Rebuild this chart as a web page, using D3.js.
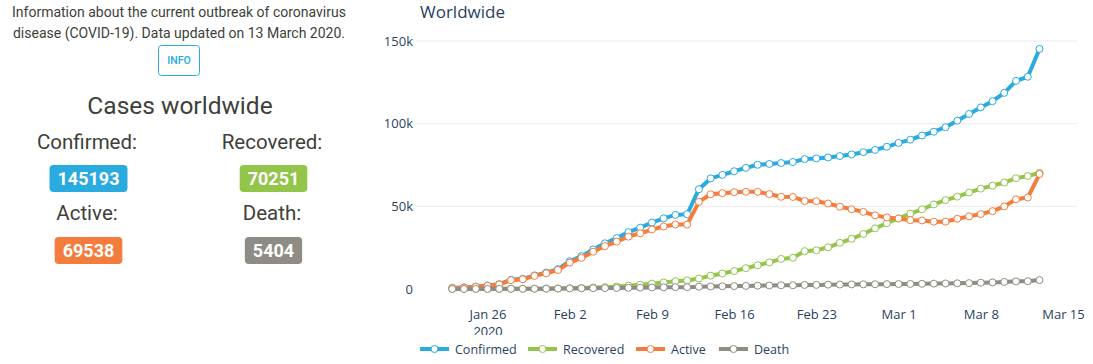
<!DOCTYPE html>
<html>
<head>
<meta charset="utf-8">
<script src="https://cdn.jsdelivr.net/npm/d3@7"></script>
<style>
  html, body { margin: 0; padding: 0; background: #fff; }
  svg { display: block; }
</style>
</head>
<body>
<svg id="root" width="1093" height="364"></svg>
<script>
// ---------- data ----------
const startDate = "2020-01-23";
const endDate = "2020-03-13";
const seriesNames = ["Confirmed", "Recovered", "Active", "Death"];
const confirmed = [654, 941, 1434, 2118, 2927, 5578, 6166, 8234, 9927, 12038, 16787, 19881, 23892, 27635, 30794, 34391, 37120, 40150, 42762, 44802, 45221, 60368, 66885, 69030, 71224, 73258, 75136, 75639, 76197, 76823, 78579, 78965, 79568, 80413, 81395, 82754, 84120, 86011, 88369, 90306, 92840, 95120, 97886, 101801, 105847, 109821, 113590, 118620, 125875, 128352, 145193];
const recovered = [30, 36, 39, 52, 61, 107, 126, 143, 222, 284, 472, 623, 852, 1124, 1487, 2011, 2616, 3244, 3946, 4683, 5150, 6295, 8058, 9395, 10865, 12583, 14352, 16121, 18177, 18890, 22886, 23394, 25227, 27905, 30384, 33277, 36711, 39782, 42716, 45602, 48228, 51170, 53796, 55865, 58358, 60694, 62494, 64404, 67003, 68324, 70251];
const active = [606, 879, 1353, 2010, 2784, 5340, 5907, 7920, 9492, 11495, 15953, 18832, 22548, 25947, 28673, 31661, 33698, 36000, 37803, 39006, 38953, 52702, 57304, 57969, 58589, 58807, 58777, 57396, 55773, 55682, 53235, 53102, 51712, 49800, 48241, 46663, 44537, 43288, 42657, 41619, 41452, 40696, 40742, 42476, 43931, 45325, 47108, 49954, 54257, 55308, 69538];
const death = [18, 26, 42, 56, 82, 131, 133, 171, 213, 259, 362, 426, 492, 564, 634, 719, 806, 906, 1013, 1113, 1118, 1371, 1523, 1666, 1770, 1868, 2007, 2122, 2247, 2251, 2458, 2469, 2629, 2708, 2770, 2814, 2872, 2941, 2996, 3085, 3160, 3254, 3348, 3460, 3558, 3802, 3988, 4262, 4615, 4720, 5404];
const yTicks = [0, 50000, 100000, 150000];
const yTickLabels = ["0", "50k", "100k", "150k"];
const xTickDates = ["2020-01-26", "2020-02-02", "2020-02-09", "2020-02-16", "2020-02-23", "2020-03-01", "2020-03-08", "2020-03-15"];
const summaryLabels = ["Confirmed:", "Recovered:", "Active:", "Death:"];
const summaryValues = ["145193", "70251", "69538", "5404"];

// ---------- styles ----------
const colors = { Confirmed: "#29abe0", Recovered: "#93c54b", Active: "#f47c3c", Death: "#8e8c84" };
const seriesData = { Confirmed: confirmed, Recovered: recovered, Active: active, Death: death };
const parse = d3.utcParse("%Y-%m-%d");
const dates = d3.utcDay.range(parse(startDate), d3.utcDay.offset(parse(endDate), 1));

const svg = d3.select("#root");

// ---------- left panel ----------
const left = svg.append("g").style("font-family", "Roboto, sans-serif").attr("fill", "#3e3f3a");
left.append("text").attr("x", 179).attr("y", 17).attr("text-anchor", "middle")
  .style("font-size", "14px").text("Information about the current outbreak of coronavirus");
left.append("text").attr("x", 179).attr("y", 38).attr("text-anchor", "middle")
  .style("font-size", "14px").text("disease (COVID-19). Data updated on 13 March 2020.");
left.append("rect").attr("x", 158.5).attr("y", 45.5).attr("width", 41).attr("height", 30).attr("rx", 3)
  .attr("fill", "#fff").attr("stroke", "#29abe0").attr("stroke-width", 1);
left.append("text").attr("x", 179).attr("y", 64).attr("text-anchor", "middle")
  .style("font-size", "10.5px").style("font-weight", 500).attr("fill", "#29abe0").text("INFO");
left.append("text").attr("x", 180).attr("y", 114).attr("text-anchor", "middle")
  .style("font-size", "24.5px").text("Cases worldwide");

const cellPos = [
  { cx: 87, ly: 149, by: 165 },
  { cx: 272, ly: 149, by: 165 },
  { cx: 87, ly: 220, by: 237 },
  { cx: 272, ly: 220, by: 237 }
];
summaryLabels.forEach((lab, i) => {
  const p = cellPos[i];
  left.append("text").attr("x", p.cx).attr("y", p.ly).attr("text-anchor", "middle")
    .style("font-size", "20.5px").text(lab);
  const t = left.append("text").attr("x", p.cx + 1.5).attr("y", p.by + 20).attr("text-anchor", "middle")
    .style("font-size", "18px").style("font-weight", 700).attr("fill", "#fff").text(summaryValues[i]);
  const w = t.node().getComputedTextLength();
  left.insert("rect", function () { return t.node(); })
    .attr("x", p.cx + 1.5 - w / 2 - 8).attr("y", p.by).attr("width", w + 16).attr("height", 27)
    .attr("rx", 4).attr("fill", colors[seriesNames[i]]);
});

// ---------- chart ----------
const chart = svg.append("g").style("font-family", "'Open Sans', sans-serif");
const plotLeft = 415, plotRight = 1077;
const x = d3.scaleUtc().domain([parse(xTickDates[0]), parse(xTickDates[xTickDates.length - 1])]).range([487.5, 1063]);
const y = d3.scaleLinear().domain([0, 150000]).range([289, 41]);

chart.append("text").attr("x", 420).attr("y", 18).style("font-size", "17px").attr("fill", "#2a3f5f").text("Worldwide");

// gridlines
chart.append("g").selectAll("line").data(yTicks.slice(1)).join("line")
  .attr("x1", plotLeft).attr("x2", plotRight)
  .attr("y1", d => y(d)).attr("y2", d => y(d))
  .attr("stroke", "#ebebeb").attr("stroke-width", 1);

// y axis labels
const yAxis = d3.axisLeft(y).tickValues(yTicks).tickFormat((d, i) => yTickLabels[i]).tickSize(0).tickPadding(0);
const yg = chart.append("g").attr("transform", `translate(${plotLeft - 2},0)`).call(yAxis);
yg.select(".domain").remove();
yg.selectAll("text").style("font-size", "13px").style("font-family", "'Open Sans', sans-serif").attr("fill", "#2a3f5f");

// x axis labels
const fmt = d3.utcFormat("%b %-d");
const defs = svg.append("defs");
defs.append("clipPath").attr("id", "xclip").append("rect").attr("x", 380).attr("y", 290).attr("width", 713).attr("height", 45);
const xAxis = d3.axisBottom(x).tickValues(xTickDates.map(parse)).tickFormat(fmt).tickSize(0).tickPadding(0);
const xg = chart.append("g").attr("clip-path", "url(#xclip)").append("g").attr("transform", "translate(0,310)").call(xAxis);
xg.select(".domain").remove();
xg.selectAll("text").style("font-size", "13px").style("font-family", "'Open Sans', sans-serif").attr("fill", "#2a3f5f");
xg.selectAll(".tick").filter((d, i) => i === 0).append("text")
  .attr("y", 26).attr("text-anchor", "middle").style("font-size", "13px").attr("fill", "#2a3f5f").text("2020");

// series
const line = d3.line().x((d, i) => x(dates[i])).y(d => y(d));
seriesNames.forEach(name => {
  const vals = seriesData[name];
  const g = chart.append("g");
  g.append("path").datum(vals).attr("d", line).attr("fill", "none")
    .attr("stroke", colors[name]).attr("stroke-width", 4).attr("stroke-linejoin", "round");
  g.selectAll("circle").data(vals).join("circle")
    .attr("cx", (d, i) => x(dates[i])).attr("cy", d => y(d)).attr("r", 3.5)
    .attr("fill", "#fff").attr("stroke", colors[name]).attr("stroke-width", 1);
});

// legend
const legendX = [420, 528, 636, 719];
const leg = chart.append("g");
seriesNames.forEach((name, i) => {
  const lx = legendX[i];
  leg.append("line").attr("x1", lx).attr("x2", lx + 29).attr("y1", 349).attr("y2", 349)
    .attr("stroke", colors[name]).attr("stroke-width", 4);
  leg.append("circle").attr("cx", lx + 14.5).attr("cy", 349).attr("r", 3.5)
    .attr("fill", "#fff").attr("stroke", colors[name]).attr("stroke-width", 1);
  leg.append("text").attr("x", lx + 35).attr("y", 353.5).style("font-size", "12.5px")
    .attr("fill", "#2a3f5f").text(name);
});
</script>
</body>
</html>
